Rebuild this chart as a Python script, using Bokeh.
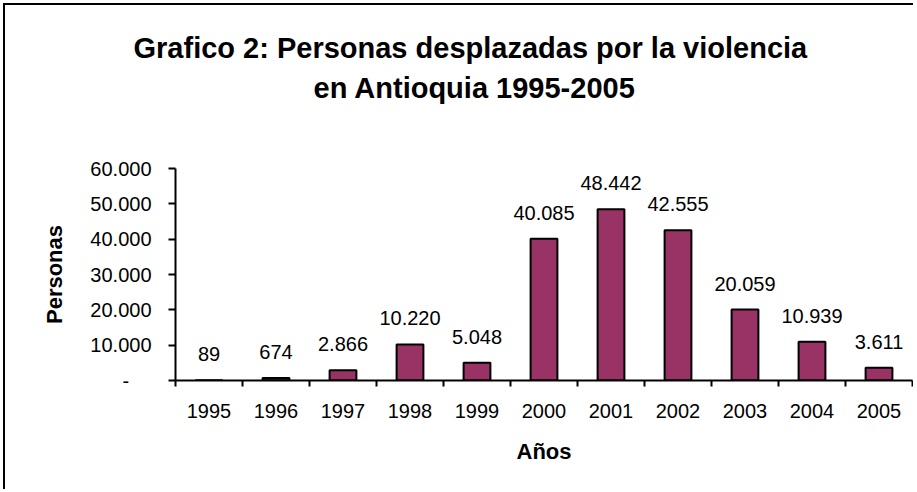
from bokeh.plotting import figure
from bokeh.models import ColumnDataSource, FixedTicker, LabelSet, Title
from bokeh.core.properties import value
from bokeh.embed import file_html
from bokeh.resources import INLINE

# ---- data ----
years = ["1995", "1996", "1997", "1998", "1999", "2000", "2001", "2002", "2003", "2004", "2005"]
values = [89, 674, 2866, 10220, 5048, 40085, 48442, 42555, 20059, 10939, 3611]
y_ticks = [0, 10000, 20000, 30000, 40000, 50000, 60000]
y_tick_labels = ["-\u00a0\u00a0\u00a0\u00a0", "10.000", "20.000", "30.000", "40.000", "50.000", "60.000"]
title_lines = ["Grafico 2: Personas desplazadas por la violencia", "en Antioquia 1995-2005"]
y_title = "Personas"
x_title = "Años"

FONT = "Liberation Sans"
BAR = "#993366"

centers = [i + 0.5 for i in range(len(years))]
labels = [f"{v:,}".replace(",", ".") for v in values]
src = ColumnDataSource(dict(x=centers, v=values, lab=labels, year=years))

p = figure(width=910, height=486, x_range=(0, len(years)), y_range=(0, 60000),
           output_backend="svg", toolbar_location=None, title=None,
           min_border_left=170, min_border_right=3, min_border_top=162, min_border_bottom=111)
p.styles = {"border-left": "2px solid black", "border-top": "2px solid black",
            "margin-left": "3px", "margin-top": "3px"}
p.outline_line_color = None
p.xgrid.grid_line_color = None
p.ygrid.grid_line_color = None
p.background_fill_color = "white"
p.border_fill_color = "white"

p.vbar(x="x", top="v", width=0.4, source=src, fill_color=BAR, line_color="black", line_width=2)

# title (two lines; the one nearest to the plot is added first)
for txt, off, so in ((title_lines[1], 138, 129), (title_lines[0], -42, -116)):
    p.add_layout(Title(text=txt, align="left", offset=off, standoff=so,
                       text_font=FONT, text_font_size="29px", text_font_style="bold",
                       text_color="black"), "above")

# y axis
ya = p.yaxis[0]
ya.ticker = FixedTicker(ticks=y_ticks)
ya.major_label_overrides = dict(zip(y_ticks, y_tick_labels))
ya.major_tick_out = 7
ya.major_tick_in = 0
ya.minor_tick_out = 0
ya.minor_tick_in = 0
ya.axis_line_width = 2
ya.major_tick_line_width = 2
ya.axis_line_color = "black"
ya.major_tick_line_color = "black"
ya.major_label_text_font = FONT
ya.major_label_text_font_size = "20px"
ya.major_label_text_color = "black"
ya.major_label_standoff = 17
ya.axis_label = y_title
ya.axis_label_text_font = FONT
ya.axis_label_text_font_size = "22px"
ya.axis_label_text_font_style = "bold"
ya.axis_label_text_color = "black"
ya.axis_label_standoff = 20

# x axis
xa = p.xaxis[0]
xa.ticker = FixedTicker(ticks=centers, minor_ticks=list(range(len(years) + 1)))
xa.major_label_overrides = dict(zip(centers, years))
xa.major_tick_out = 0
xa.major_tick_in = 0
xa.minor_tick_out = 6
xa.minor_tick_in = 0
xa.minor_tick_line_width = 2
xa.minor_tick_line_color = "black"
xa.axis_line_width = 2
xa.axis_line_color = "black"
xa.major_label_text_font = FONT
xa.major_label_text_font_size = "20px"
xa.major_label_text_color = "black"
xa.major_label_standoff = 17
xa.axis_label = x_title
xa.axis_label_text_font = FONT
xa.axis_label_text_font_size = "22px"
xa.axis_label_text_font_style = "bold"
xa.axis_label_text_color = "black"
xa.axis_label_standoff = 18

# value labels
p.add_layout(LabelSet(x="x", y="v", text="lab", source=src, text_align="center",
                      text_baseline="alphabetic", y_offset=19, text_font=value(FONT),
                      text_font_size=value("20px"), text_color="black"))

open("out.html", "w").write(file_html(p, INLINE))
